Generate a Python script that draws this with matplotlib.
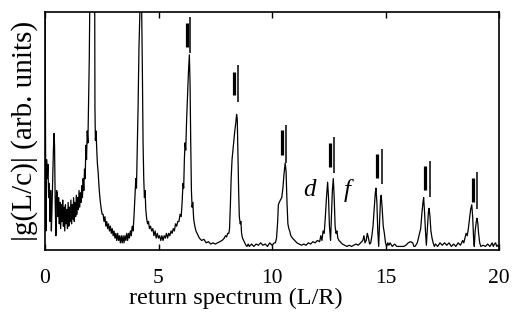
import matplotlib
matplotlib.use("Agg")
import matplotlib.pyplot as plt

plt.rcParams['font.family'] = ['Liberation Serif', 'DejaVu Serif']
plt.rcParams['mathtext.fontset'] = 'stix'

# spectrum trace (x in L/R, y in arbitrary units, 0..100 = frame height)
spec_x = [
    0.00, 0.02, 0.04, 0.07, 0.10, 0.13, 0.16, 0.19, 0.22, 0.25, 0.28, 0.31, 0.34, 0.37, 0.40, 0.42, 0.45, 0.48, 0.51,
    0.54, 0.57, 0.60, 0.63, 0.66, 0.69, 0.72, 0.75, 0.78, 0.81, 0.84, 0.87, 0.90, 0.93, 0.96, 0.99,
    1.02, 1.05, 1.08, 1.11, 1.14, 1.17, 1.20, 1.23, 1.26, 1.29, 1.32, 1.35, 1.38, 1.41, 1.44, 1.47,
    1.50, 1.53, 1.56, 1.59, 1.62, 1.65, 1.68, 1.71, 1.74, 1.77, 1.80, 1.83, 1.86, 1.89, 1.92, 1.95, 1.98,
    2.00, 2.09, 2.18, 2.20, 2.22, 2.25, 2.28, 2.31, 2.34, 2.37, 2.40, 2.44, 2.48, 2.52,
    2.56, 2.60, 2.64, 2.68, 2.72, 2.76, 2.80, 2.84, 2.88, 2.92, 2.96, 3.00, 3.04, 3.08, 3.12, 3.16,
    3.20, 3.24, 3.28, 3.32, 3.36, 3.40, 3.44, 3.48, 3.52, 3.56, 3.60, 3.64, 3.68, 3.72, 3.76, 3.80,
    3.84, 3.88, 3.92, 3.96, 4.00, 4.03, 4.06, 4.10, 4.14, 4.18, 4.22, 4.26, 4.29, 4.32, 4.35, 4.38,
    4.41, 4.44, 4.48, 4.52, 4.56, 4.60, 4.65, 4.70, 4.75, 4.80, 4.85, 4.90, 4.95, 5.00, 5.05, 5.10,
    5.15, 5.20, 5.25, 5.30, 5.35, 5.40, 5.45, 5.50, 5.55, 5.60, 5.65, 5.70, 5.75, 5.80, 5.85, 5.90,
    5.95, 6.00, 6.04, 6.08, 6.11, 6.14, 6.17, 6.20, 6.24, 6.28, 6.32, 6.36, 6.39, 6.42, 6.45, 6.48,
    6.51, 6.55, 6.60, 6.65, 6.70, 6.80, 6.90, 7.00, 7.10, 7.20, 7.30, 7.40, 7.50, 7.60, 7.70, 7.80,
    7.90, 7.95, 8.00, 8.05, 8.10, 8.13, 8.17, 8.20, 8.24, 8.28, 8.32, 8.36, 8.40, 8.44, 8.47, 8.50,
    8.53, 8.56, 8.60, 8.63, 8.66, 8.70, 8.75, 8.80, 8.85, 8.90, 8.95, 9.00, 9.10, 9.20, 9.30, 9.40,
    9.50, 9.60, 9.70, 9.80, 9.90, 10.00, 10.10, 10.15, 10.20, 10.25, 10.28, 10.32, 10.37, 10.43, 10.48, 10.53,
    10.58, 10.62, 10.66, 10.70, 10.74, 10.78, 10.83, 10.90, 11.00, 11.10, 11.20, 11.30, 11.40, 11.50, 11.60, 11.70,
    11.80, 11.90, 12.00, 12.10, 12.15, 12.20, 12.25, 12.30, 12.35, 12.40, 12.45, 12.49, 12.53, 12.58, 12.62, 12.66,
    12.70, 12.74, 12.78, 12.82, 12.86, 12.90, 12.95, 13.00, 13.10, 13.20, 13.30, 13.40, 13.50, 13.60, 13.70, 13.80,
    13.90, 14.00, 14.05, 14.10, 14.15, 14.20, 14.25, 14.30, 14.35, 14.40, 14.45, 14.50, 14.55, 14.58, 14.62, 14.66,
    14.70, 14.74, 14.78, 14.81, 14.85, 14.90, 14.95, 15.00, 15.05, 15.10, 15.15, 15.20, 15.30, 15.40, 15.50, 15.60,
    15.70, 15.80, 15.90, 16.00, 16.10, 16.20, 16.25, 16.30, 16.40, 16.45, 16.50, 16.55, 16.60, 16.65, 16.68, 16.72,
    16.76, 16.80, 16.85, 16.89, 16.92, 16.96, 17.00, 17.05, 17.10, 17.15, 17.20, 17.30, 17.40, 17.50, 17.60, 17.70,
    17.80, 17.90, 18.00, 18.10, 18.20, 18.30, 18.40, 18.45, 18.50, 18.55, 18.60, 18.65, 18.70, 18.75, 18.80, 18.84,
    18.88, 18.91, 18.95, 19.00, 19.03, 19.07, 19.10, 19.15, 19.20, 19.30, 19.40, 19.50, 19.60, 19.70, 19.75, 19.80,
    19.85, 19.90, 19.95, 20.00,
]
spec_y = [
    105, 60, 8, 38, 30, 36, 22, 28, 12, 25, 8, 18, 30, 42, 49, 44, 20, 6, 25,
    24, 14, 22, 11, 20, 9, 19, 12, 21, 10, 18, 8, 19, 11, 17, 9,
    20, 10, 18, 12, 21, 11, 19, 13, 22, 12, 20, 14, 23, 15, 22, 17,
    25, 18, 24, 20, 27, 22, 30, 25, 34, 30, 44, 38, 50, 45, 62, 80, 110,
    160, 250, 150, 60, 46, 50, 42, 36, 33, 28, 24, 20, 17, 15,
    15, 12, 14, 10, 12, 9, 11, 8, 10, 7, 9, 6, 8, 5, 7, 4,
    7, 4, 6, 3, 6, 3, 6, 3, 6, 4, 7, 4, 7, 5, 8, 6,
    10, 8, 14, 22, 30, 26, 40, 60, 85, 100, 110, 100, 75, 45, 30, 22,
    25, 17, 13, 11, 12, 9, 10, 8, 9, 6, 8, 5, 7, 5, 6, 4,
    6, 4, 6, 5, 7, 5, 7, 6, 8, 7, 9, 8, 11, 10, 12, 12,
    15, 14, 20, 28, 26, 38, 45, 42, 55, 65, 75, 82, 70, 45, 25, 18,
    20, 13, 10, 8, 7, 5, 4, 4.5, 3, 3.5, 2.5, 3, 2.5, 3, 3.5, 4,
    5, 6, 5.5, 7, 7, 9, 20, 30, 38, 42, 46, 50, 53, 57, 55, 40,
    25, 14, 11, 12, 7, 5, 4, 3, 2, 1.5, 2.5, 1.5, 2.5, 1.5, 2.5, 2,
    3, 2, 2.5, 1.5, 3, 2, 3, 3, 5, 12, 19, 20, 21, 22, 26, 32,
    36.5, 33, 20, 11, 9, 8, 6, 5, 4, 3, 2.5, 2, 2.5, 2, 3, 2.5,
    3.5, 3, 4, 3.5, 6, 4, 8, 7, 14, 22, 28.5, 22, 10, 4, 15, 25,
    30, 22, 10, 7, 8, 5, 4, 3.5, 2.5, 2, 1.5, 2, 1.5, 2, 2.5, 2,
    3, 4, 6, 3, 4, 7, 5, 2.5, 3, 6, 10, 17, 24, 26, 20, 8,
    1.5, 12, 21, 23, 18, 10, 7, 3, 1.5, 3, 2, 3, 1.5, 2.5, 1.5, 1.5,
    1.5, 1.5, 2, 3, 3.5, 3, 1.5, 1.5, 3, 5, 7, 9, 15, 20, 22, 16,
    8, 2, 10, 16, 17.5, 14, 8, 5, 3, 1.5, 2.5, 1.5, 3, 2, 3, 2,
    3, 1.5, 2.5, 1.5, 3, 2, 4, 3, 5, 7, 6, 9, 13, 17, 19, 14,
    5, 1.5, 8, 12, 13.3, 11, 7, 3, 1.5, 2, 1.5, 2.5, 1.5, 3, 1.5, 2.5,
    3, 1.5, 2, 1.5,
]

# doublet markers (short vertical bars above peaks)
mark_left_x = [6.24, 8.33, 10.43, 12.56, 14.64, 16.74, 18.87]
mark_left_lo = [85.3, 65.1, 39.9, 34.9, 30.3, 25.2, 20.2]
mark_left_hi = [95.4, 74.8, 50.4, 45.0, 40.3, 35.3, 30.3]
mark_right_x = [6.39, 8.49, 10.60, 12.73, 14.85, 16.95, 19.05]
mark_right_lo = [82.8, 62.2, 36.6, 32.4, 27.7, 22.3, 17.2]
mark_right_hi = [97.9, 77.7, 52.5, 47.5, 42.4, 37.4, 32.8]

labels_text = ['d', 'f']
labels_x = [11.67, 13.30]
labels_y = [25, 25]

xticks = [0, 5, 10, 15, 20]

fig = plt.figure(figsize=(5.13, 3.22), dpi=100)
ax = fig.add_axes([45/513, 1 - 250/322, (499-45)/513, (250-12)/322])

ax.plot(spec_x, spec_y, color='black', lw=0.9)
ax.vlines(mark_left_x, mark_left_lo, mark_left_hi, color='black', lw=2.3)
ax.vlines(mark_right_x, mark_right_lo, mark_right_hi, color='black', lw=1.1)
for t, x, y in zip(labels_text, labels_x, labels_y):
    ax.text(x, y, t, fontsize=18, style='italic', ha='center', va='center')

ax.set_xlim(0, 20)
ax.set_ylim(0, 100)
ax.set_xticks(xticks)
ax.set_xticklabels([str(v) for v in xticks])
ax.set_yticks([])
ax.tick_params(axis='x', direction='in', top=True, length=4, width=1, labelsize=15.5, pad=14)
for s in ax.spines.values():
    s.set_linewidth(1.2)

ax.set_xlabel('return spectrum (L/R)', fontsize=17.5, va='center')
ax.xaxis.set_label_coords(0.42, -0.205)
ax.set_ylabel('|g(L/c)| (arb. units)', fontsize=21, labelpad=5)

fig.savefig('out.png', dpi=100)
